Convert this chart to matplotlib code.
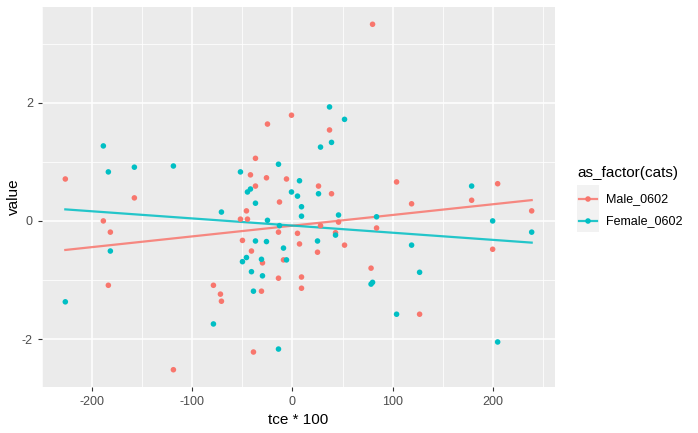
import numpy as np
import matplotlib
matplotlib.use('Agg')
import matplotlib.pyplot as plt
from matplotlib.lines import Line2D

plt.rcParams['font.family'] = ['Liberation Sans', 'DejaVu Sans']
plt.rcParams['axes.unicode_minus'] = False

# values
male_x = [-227, -189, -182, -158, -184, -119, -79, -72, -71, -39,
          -13, -46, -52, -45, -14, -50, -41, -30, -9, -14,
          -31, 9, 9, 5, 7, -1, -25, -37, -42, -26,
          -6, -37, 80, 37, 26, 104, 205, 39, 179, 119,
          239, 46, 28, 84, 200, 43, 25, 52, 78.5, 127]
male_y = [0.71, 0.00, -0.19, 0.39, -1.09, -2.52, -1.09, -1.24, -1.36, -2.22,
          0.32, 0.17, 0.03, 0.03, -0.19, -0.33, -0.51, -0.71, -0.66, -0.97,
          -1.19, -0.95, -1.14, -0.21, -0.39, 1.79, 1.64, 1.06, 0.78, 0.73,
          0.71, 0.59, 3.33, 1.54, 0.59, 0.66, 0.63, 0.46, 0.35, 0.29,
          0.17, -0.02, -0.08, -0.12, -0.48, -0.20, -0.53, -0.41, -0.80, -1.58]

female_x = [-14, -79, -227, -182, -71, -25, -13, -37, -26, -9,
            -50, -46, -31, -6, -41, -30, -39, -1, 5, 9,
            9, -45, -42, -14, -52, 7, -189, -184, -158, -119,
            37, 52, 39, 28, 179, 26, 46, 84, 200, 239,
            43, 25, 119, 127, 78.5, 80, 104, 205, -37]
female_y = [-2.17, -1.745, -1.37, -0.51, 0.15, 0.01, -0.08, -0.34, -0.35, -0.46,
            -0.69, -0.62, -0.65, -0.66, -0.86, -0.93, -1.19, 0.49, 0.42, 0.24,
            0.08, 0.49, 0.54, 0.96, 0.83, 0.68, 1.27, 0.83, 0.91, 0.93,
            1.93, 1.72, 1.33, 1.25, 0.59, 0.46, 0.10, 0.07, 0.00, -0.19,
            -0.24, -0.34, -0.41, -0.87, -1.07, -1.04, -1.58, -2.05, 0.30]

groups = ['Male_0602', 'Female_0602']
colors = ['#F8766D', '#00BFC4']

W, H = 698, 433
fig = plt.figure(figsize=(W / 100, H / 100), dpi=100)
fig.patch.set_facecolor('white')

# panel placed in pixel coords
L, R, T, B = 42, 555, 7, 387
ax = fig.add_axes([L / W, (H - B) / H, (R - L) / W, (B - T) / H])
ax.set_facecolor('#EBEBEB')

data = [(np.array(male_x), np.array(male_y)), (np.array(female_x), np.array(female_y))]
for (x, y), c in zip(data, colors):
    ax.scatter(x, y, s=16, color=c, edgecolors='none', zorder=3)
    k, b = np.polyfit(x, y, 1)
    xs = np.array([x.min(), x.max()])
    ax.plot(xs, k * xs + b, color=c, lw=1.6, alpha=0.85, zorder=2)

ax.set_xticks([-200, -100, 0, 100, 200])
ax.set_xticks([-250, -150, -50, 50, 150, 250], minor=True)
ax.set_yticks([-2, 0, 2])
ax.set_yticks([-3, -1, 1, 3], minor=True)

# ggplot style 5% expansion, set after ticks so they do not widen it
allx = np.concatenate([male_x, female_x])
ally = np.concatenate([male_y, female_y])
dx = (allx.max() - allx.min()) * 0.05
dy = (ally.max() - ally.min()) * 0.05
ax.set_xlim(allx.min() - dx, allx.max() + dx)
ax.set_ylim(ally.min() - dy, ally.max() + dy)

ax.grid(which='major', color='white', lw=1.1)
ax.grid(which='minor', color='white', lw=0.55)
ax.set_axisbelow(True)
for s in ax.spines.values():
    s.set_visible(False)
ax.tick_params(which='major', length=3, width=0.8, color='#333333',
               labelcolor='#4D4D4D', labelsize=9, pad=3.5)
ax.tick_params(which='minor', length=0)

# axis titles
fig.text(298 / W, 1 - 420 / H, 'tce * 100', fontsize=11, ha='center', va='center')
fig.text(14 / W, 1 - 197 / H, 'value', fontsize=11, ha='center', va='center', rotation=90)

# legend built by hand
fig.text(577 / W, 1 - 173 / H, 'as_factor(cats)', fontsize=11, va='center', ha='left')
lax = fig.add_axes([577 / W, (H - 232) / H, 22 / W, 47 / H])
lax.set_facecolor('#F2F2F2')
lax.set_xlim(0, 1)
lax.set_ylim(0, 47)
lax.set_xticks([])
lax.set_yticks([])
for s in lax.spines.values():
    s.set_visible(False)
for i, (g, c) in enumerate(zip(groups, colors)):
    yy = 47 - (199 - 185) - i * 22
    lax.add_line(Line2D([0.1, 0.9], [yy, yy], color=c, lw=1.6, alpha=0.85))
    lax.scatter([0.5], [yy], s=16, color=c, edgecolors='none', zorder=3)
    fig.text(606 / W, 1 - (199 + i * 22) / H, g, fontsize=9, va='center', ha='left')

fig.savefig('out.png', dpi=100)
